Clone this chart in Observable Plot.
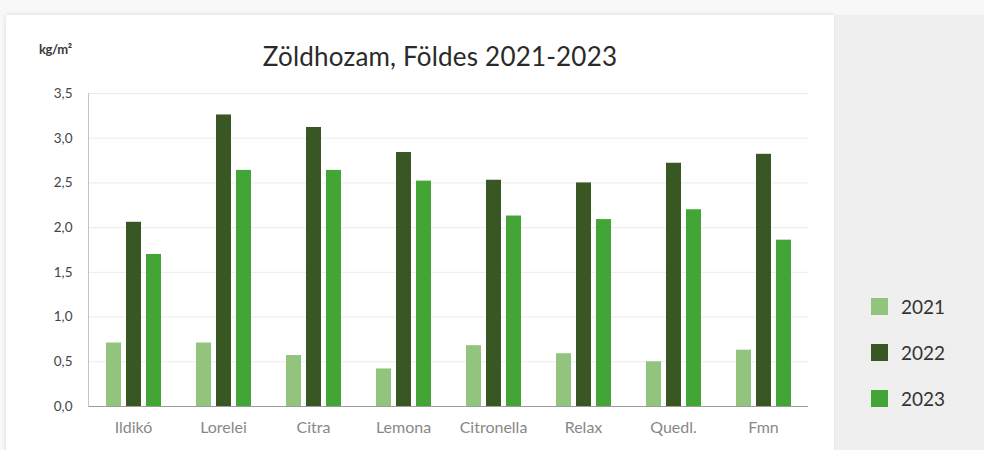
<!DOCTYPE html>
<html><head><meta charset="utf-8">
<script src="https://cdn.jsdelivr.net/npm/d3@7"></script>
<script src="https://cdn.jsdelivr.net/npm/@observablehq/plot@0.6"></script>
<style>
html,body{margin:0;padding:0;background:#f8f8f8;}
#wrap{position:relative;width:984px;height:450px;overflow:hidden;font-family:Lato, "Open Sans", sans-serif;}
#card{position:absolute;left:6px;top:15px;width:828px;height:445px;background:#fff;box-shadow:0 0 5px rgba(0,0,0,0.13);}
#panel{position:absolute;left:835px;top:15px;width:149px;height:435px;background:#efefef;}
#title{position:absolute;left:0;width:880px;top:43px;line-height:26px;text-align:center;font-size:26px;letter-spacing:0.2px;color:#2a2a2a;}
#unit{position:absolute;left:39px;top:41px;font-size:13px;font-weight:bold;letter-spacing:-0.4px;color:#3a3a3a;}
#chart{position:absolute;left:0;top:0;}
#legend{position:absolute;left:871px;top:298px;}
.item{display:flex;align-items:center;height:17px;margin-bottom:29px;font-size:19px;color:#333;}
.sw{width:17px;height:17px;margin-right:13px;}
</style></head>
<body>
<div id="wrap">
  <div id="card"></div>
  <div id="panel"></div>
  <div id="chart"></div>
  <div id="unit">kg/m²</div>
  <div id="title">Zöldhozam, Földes 2021-2023</div>
  <div id="legend"></div>
</div>
<script>
const varieties = ["Ildikó","Lorelei","Citra","Lemona","Citronella","Relax","Quedl.","Fmn"];
const years = ["2021","2022","2023"];
const y2021 = [0.71,0.71,0.57,0.42,0.68,0.59,0.50,0.63];
const y2022 = [2.06,3.26,3.12,2.84,2.53,2.50,2.72,2.82];
const y2023 = [1.70,2.64,2.64,2.52,2.13,2.09,2.20,1.86];
const yTicks = [0,0.5,1,1.5,2,2.5,3,3.5];
const colors = ["#93c47d","#385723","#43a536"];

const series = [y2021, y2022, y2023];
const data = varieties.flatMap((v, i) => years.map((yr, j) => ({variety: v, year: yr, value: series[j][i]})));

const chart = Plot.plot({
  width: 984, height: 450,
  marginTop: 93, marginBottom: 44, marginLeft: 88, marginRight: 176,
  style: {background: "transparent", fontFamily: "Lato, 'Open Sans', sans-serif"},
  fx: {domain: varieties, padding: 0, label: null},
  x: {domain: years, paddingInner: 0.25, paddingOuter: 0.875, axis: null},
  y: {domain: [0, 3.5]},
  color: {domain: years, range: colors},
  marks: [
    Plot.gridY(yTicks, {stroke: "#ebebeb", strokeOpacity: 1}),
    Plot.axisY(yTicks, {tickSize: 0, tickPadding: 16, tickFormat: d => d.toFixed(1).replace(".", ","), fontSize: 13.5, color: "#444", label: null}),
    Plot.axisFx({anchor: "bottom", tickSize: 0, tickPadding: 15, fontSize: 16, color: "#888", label: null, style: {letterSpacing: "0.3px"}}),
    Plot.barY(data, {fx: "variety", x: "year", y: "value", fill: "year"}),
    Plot.ruleY([0], {stroke: "#9a9a9a"}),
    Plot.frame({anchor: "left", stroke: "#c4c4c4", facetAnchor: "left"})
  ]
});
document.getElementById("chart").appendChild(chart);

const legend = document.getElementById("legend");
years.forEach((yr, j) => {
  const it = document.createElement("div");
  it.className = "item";
  it.innerHTML = `<span class="sw" style="background:${colors[j]}"></span><span>${yr}</span>`;
  legend.appendChild(it);
});
</script>
</body></html>
